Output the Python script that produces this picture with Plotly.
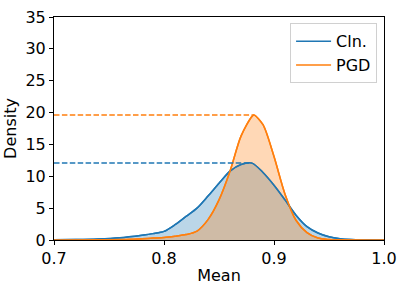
import plotly.graph_objects as go

# Data (KDE density curves)
cln_x = [0.70, 0.72, 0.74, 0.76, 0.78, 0.79, 0.80, 0.81, 0.82, 0.83, 0.84, 0.85,
         0.86, 0.87, 0.88, 0.89, 0.90, 0.91, 0.92, 0.93, 0.94, 0.95, 0.96, 0.97, 0.98, 1.00]
cln_y = [0.02, 0.06, 0.15, 0.35, 0.75, 1.0, 1.35, 2.4, 3.7, 5.0, 6.9, 8.9,
         10.8, 11.85, 12.07, 10.6, 8.6, 6.3, 3.9, 2.1, 1.1, 0.5, 0.2, 0.07, 0.02, 0.0]

pgd_x = [0.70, 0.74, 0.77, 0.79, 0.80, 0.81, 0.82, 0.83, 0.84, 0.85, 0.86, 0.87,
         0.88, 0.882, 0.89, 0.90, 0.91, 0.92, 0.93, 0.94, 0.95, 0.96, 1.00]
pgd_y = [0.0, 0.02, 0.1, 0.3, 0.4, 0.6, 0.85, 1.4, 3.2, 6.3, 10.8, 16.3,
         19.4, 19.6, 18.1, 13.1, 7.2, 3.1, 1.15, 0.3, 0.08, 0.02, 0.0]

names = ["Cln.", "PGD"]
colors = ["#1f77b4", "#ff7f0e"]
fills = ["rgba(31,119,180,0.3)", "rgba(255,127,14,0.3)"]

x_ticks = [0.7, 0.8, 0.9, 1.0]
y_ticks = [0, 5, 10, 15, 20, 25, 30, 35]

fig = go.Figure()
series = [(cln_x, cln_y), (pgd_x, pgd_y)]

for (xs, ys), c, f in zip(series, colors, fills):
    fig.add_trace(go.Scatter(x=xs, y=ys, mode="lines", fill="tozeroy", fillcolor=f,
                             line=dict(color=c, width=1.5, shape="spline", smoothing=0.8),
                             showlegend=False, hoverinfo="skip"))

for (xs, ys), c, n in zip(series, colors, names):
    fig.add_trace(go.Scatter(x=xs, y=ys, mode="lines", name=n,
                             line=dict(color=c, width=1.5, shape="spline", smoothing=0.8)))

for (xs, ys), c in zip(series, colors):
    peak = max(ys)
    px = xs[ys.index(peak)]
    fig.add_trace(go.Scatter(x=[x_ticks[0], px], y=[peak, peak], mode="lines",
                             line=dict(color=c, width=1.5, dash="5.5px,2.4px"),
                             showlegend=False, hoverinfo="skip"))

axis_common = dict(showline=True, linecolor="black", linewidth=1, mirror=True,
                   ticks="outside", ticklen=4, tickcolor="black", showgrid=False,
                   zeroline=False, tickfont=dict(size=16, color="black"),
                   title_font=dict(size=16, color="black"), ticklabeloverflow="allow")

fig.update_xaxes(range=[0.7, 1.0], tickvals=x_ticks, tickformat=".1f",
                 title_text="Mean", title_standoff=2, **axis_common)
fig.update_yaxes(range=[0, 35], tickvals=y_ticks,
                 title_text="Density", title_standoff=4, **axis_common)

fig.update_layout(
    width=407, height=291,
    margin=dict(l=54, r=23, t=8, b=51),
    plot_bgcolor="white", paper_bgcolor="white",
    font=dict(family="DejaVu Sans", color="black"),
    legend=dict(x=0.979, y=0.972, xanchor="right", yanchor="top",
                bordercolor="#d0d0d0", borderwidth=1, bgcolor="rgba(255,255,255,0.8)",
                font=dict(size=16), itemwidth=35, tracegroupgap=0),
)

# remove the browser's default 8px body margin so the figure fills the window
fig.write_html("out.html", config={"displayModeBar": False},
               post_script="document.body.style.margin='0';")
